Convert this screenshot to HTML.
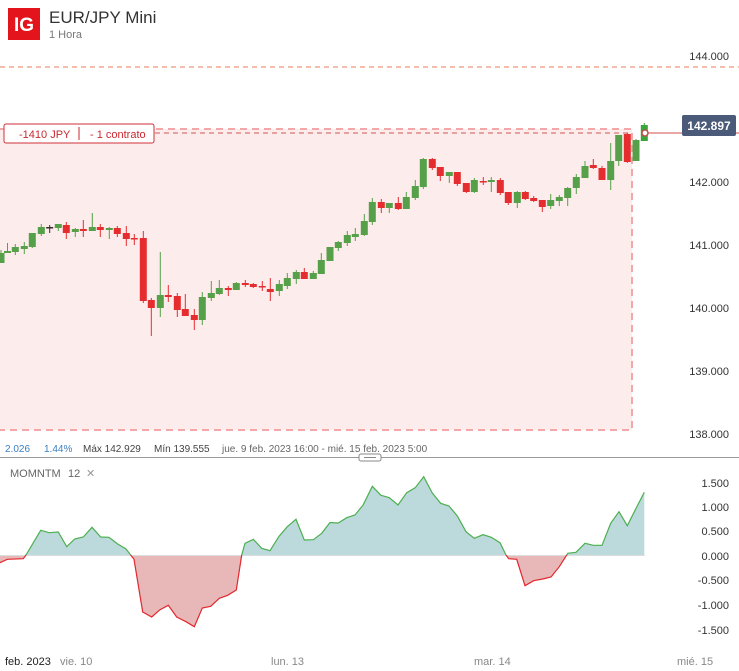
<!DOCTYPE html>
<html><head><meta charset="utf-8"><style>
body{margin:0;background:#fff;width:739px;height:671px;overflow:hidden;font-family:"Liberation Sans",sans-serif;}
svg{display:block}
</style></head><body>
<svg id="s" width="739" height="671" xmlns="http://www.w3.org/2000/svg" font-family="Liberation Sans, sans-serif">
<rect x="8" y="8" width="32" height="32" fill="#e3141c"/>
<text x="24" y="31" fill="#fff" font-size="19" font-weight="bold" text-anchor="middle">IG</text>
<text x="49" y="23" fill="#333" font-size="17">EUR/JPY Mini</text>
<text x="49" y="38" fill="#777" font-size="11">1 Hora</text>
<line x1="0" y1="67" x2="739" y2="67" stroke="#f0a890" stroke-width="1.5" stroke-dasharray="5,4"/>
<rect x="0" y="129" width="632" height="301" fill="#fdecec"/>
<path d="M0 129 H632 V430 H0" fill="none" stroke="#f2a8a8" stroke-width="2" stroke-dasharray="7,5"/>
<line x1="155" y1="133" x2="630" y2="133" stroke="#e08888" stroke-width="1.5" stroke-dasharray="5,4"/>
<line x1="645" y1="133" x2="739" y2="133" stroke="#e08888" stroke-width="1.5"/>
<rect x="4" y="124" width="150" height="19" rx="2" fill="#fff" stroke="#d0323a" stroke-width="1"/>
<text x="19" y="138" fill="#c8282e" font-size="11">-1410 JPY</text>
<line x1="79" y1="127" x2="79" y2="140" stroke="#c8282e"/>
<text x="90" y="138" fill="#c8282e" font-size="11">- 1 contrato</text>
<g id="candles"></g>
<circle cx="645" cy="133" r="3" fill="#fff" stroke="#c0504d" stroke-width="1.5"/>
<g font-size="11" fill="#333" text-anchor="end">
<text x="729" y="60">144.000</text>
<text x="729" y="186">142.000</text>
<text x="729" y="249">141.000</text>
<text x="729" y="312">140.000</text>
<text x="729" y="375">139.000</text>
<text x="729" y="438">138.000</text>
</g>
<rect x="682" y="115" width="54" height="21" rx="2" fill="#4a5a78"/>
<text x="709" y="130" fill="#fff" font-size="12" font-weight="bold" text-anchor="middle">142.897</text>
<g font-size="10">
<text x="5" y="452" fill="#3a7fc0">2.026</text>
<text x="44" y="452" fill="#3a7fc0">1.44%</text>
<text x="83" y="452" fill="#444">Máx 142.929</text>
<text x="154" y="452" fill="#444">Mín 139.555</text>
<text x="222" y="452" fill="#666">jue. 9 feb. 2023 16:00 - mié. 15 feb. 2023 5:00</text>
</g>
<line x1="0" y1="457.5" x2="739" y2="457.5" stroke="#999"/>
<rect x="359" y="454" width="22" height="7" rx="2" fill="#fff" stroke="#888"/>
<line x1="364" y1="457.5" x2="376" y2="457.5" stroke="#888"/>
<text x="10" y="477" fill="#666" font-size="11">MOMNTM</text>
<text x="68" y="477" fill="#666" font-size="11">12</text>
<text x="86" y="477" fill="#999" font-size="11">✕</text>
<defs>
<clipPath id="up"><rect x="0" y="460" width="739" height="95"/></clipPath>
<clipPath id="dn"><rect x="0" y="555" width="739" height="100"/></clipPath>
</defs>
<g id="mom"></g>
<g font-size="11" fill="#333" text-anchor="end">
<text x="729" y="487">1.500</text>
<text x="729" y="511">1.000</text>
<text x="729" y="535">0.500</text>
<text x="729" y="560">0.000</text>
<text x="729" y="584">-0.500</text>
<text x="729" y="609">-1.000</text>
<text x="729" y="634">-1.500</text>
</g>
<g font-size="11">
<text x="5" y="665" fill="#222">feb. 2023</text>
<text x="60" y="665" fill="#888">vie. 10</text>
<text x="271" y="665" fill="#888">lun. 13</text>
<text x="474" y="665" fill="#888">mar. 14</text>
<text x="677" y="665" fill="#888">mié. 15</text>
</g>
</svg>
<script>
var C=[[1,253,263,250,263,'g'],[7.5,251,253,243,253,'g'],[15.3,247,252,244,255,'g'],[24.3,246,249,242,254,'g'],[32.3,233,247,233,248,'g'],[41.3,227,234,224,236,'g'],[49.7,227,228,225,233,'k'],[58.3,224,228,224,231,'g'],[66.3,225,233,222,239,'r'],[75.3,229,232,228,237,'g'],[83.3,229,231,220,237,'r'],[92.3,227,231,213,231,'g'],[100.3,227,230,224,237,'r'],[109.3,228,230,227,239,'g'],[117.3,228,234,226,237,'r'],[126.3,233,239,226,246,'r'],[134.3,238,239,234,245,'r'],[143.3,238,301,231,303,'r'],[151.3,300,308,298,336,'r'],[160.3,295,308,252,317,'g'],[168.3,295,297,285,302,'r'],[177.3,296,310,293,317,'r'],[185.3,309,316,294,316,'r'],[194.3,315,320,309,330,'r'],[202.3,297,320,292,325,'g'],[211.3,293,298,281,301,'g'],[219.3,288,294,280,295,'g'],[228.3,288,290,286,296,'r'],[236.3,283,290,282,290,'g'],[245.3,283,285,280,287,'r'],[253.3,284,287,283,288,'r'],[262.3,286,287,281,291,'r'],[270.3,289,292,278,301,'r'],[279.3,284,291,280,296,'g'],[287.3,278,286,273,289,'g'],[296.3,272,279,270,284,'g'],[304.3,272,279,268,279,'r'],[313.3,273,279,271,279,'g'],[321.3,260,274,253,274,'g'],[330,247,261,247,261,'g'],[338.3,242,248,241,251,'g'],[347.3,235,243,231,246,'g'],[355.3,234,237,228,241,'g'],[364.3,221,235,214,236,'g'],[372.3,202,222,198,225,'g'],[381.3,202,208,199,213,'r'],[389.3,203,208,203,213,'g'],[398.3,203,209,197,210,'r'],[406.3,197,209,192,209,'g'],[415.3,186,198,180,200,'g'],[423.3,159,187,158,189,'g'],[432.3,159,168,158,170,'r'],[440.3,167,176,167,181,'r'],[449.3,172,176,172,183,'g'],[457.3,172,184,172,186,'r'],[466.3,183,192,183,193,'r'],[474.3,180,192,178,193,'g'],[483.3,181,182,177,185,'r'],[491.3,180,182,177,192,'g'],[500.3,180,193,178,195,'r'],[508.3,192,203,192,205,'r'],[517.3,192,203,191,208,'g'],[525.3,192,199,191,200,'r'],[533.7,198,201,196,202,'r'],[542.3,200,207,200,212,'r'],[550.7,200,206,194,209,'g'],[559.3,197,201,195,206,'g'],[567.7,188,198,187,206,'g'],[576.3,177,188,174,194,'g'],[585,166,178,161,178,'g'],[593.3,165,168,159,169,'r'],[602,168,180,166,180,'r'],[610.7,161,180,143,190,'g'],[618.7,135,161,135,166,'g'],[627.3,134,162,133,163,'r'],[636,140,161,139,161,'g'],[644.3,125,141,123,141,'G']];
var col={g:'#55a048',r:'#e52d2f',k:'#3a2a2a',G:'#3aa53a'};
var h='';
C.forEach(function(c){var f=col[c[5]];h+='<line x1="'+c[0]+'" y1="'+c[3]+'" x2="'+c[0]+'" y2="'+c[4]+'" stroke="'+f+'" stroke-width="1"/>';var bh=Math.max(c[2]-c[1],1.5);h+='<rect x="'+(c[0]-3.5)+'" y="'+c[1]+'" width="7" height="'+bh+'" fill="'+f+'"/>';});
document.getElementById('candles').innerHTML=h;
var P=[[0,562.7],[7.3,559.3],[23.3,558.7],[26,555],[40.7,530.3],[49.3,532.7],[58.3,532],[66.7,546.7],[74.7,539],[83.3,537],[92,527.3],[100.7,537],[109,537.3],[117.3,543.7],[126,549],[130.7,555],[134,559.3],[142.7,612],[151.7,617],[160,609.7],[168.3,605.3],[176.7,617],[186,621.7],[194.3,626.7],[202.3,608],[210.7,606.3],[219.3,598.3],[227.7,595.3],[236.3,590],[241.7,555],[245,543.3],[253.3,539.3],[261.7,548.3],[270,550.7],[279,536.3],[287.3,526.7],[296,519.3],[304.3,540],[313.3,539.7],[321.7,533.3],[330,522.5],[338.3,523],[346.7,517.7],[355,515],[363.3,504.7],[372.3,486.3],[381,495.3],[389.3,497.7],[398,505],[406.7,492.7],[415.3,487.7],[423.7,476.7],[432.3,493],[440.7,503.3],[449,506],[457.3,516],[466,531.7],[474.3,538.3],[483,534.7],[491.3,537.3],[500,542.7],[506,555],[508.7,558.7],[516.7,559.3],[525,585.7],[533.7,580.7],[542.7,579],[551,577],[559.3,566.7],[566.7,555],[567.7,553.3],[576,552.3],[585,543.3],[593.3,545.3],[602,545.3],[610.7,523.3],[619,511.7],[627.3,525.7],[635.7,509],[644.3,492.3]];
var pts=P.map(function(p){return p[0]+','+p[1]}).join(' ');
var poly='0,555 '+pts+' 644.3,555';
var m='<polygon points="'+poly+'" fill="#bcd9dc" clip-path="url(#up)"/>';
m+='<polygon points="'+poly+'" fill="#e8b8b8" clip-path="url(#dn)"/>';
m+='<line x1="0" y1="555.5" x2="645" y2="555.5" stroke="#ddd" stroke-width="1"/>';
m+='<polyline points="'+pts+'" fill="none" stroke="#4caf50" stroke-width="1.2" clip-path="url(#up)"/>';
m+='<polyline points="'+pts+'" fill="none" stroke="#e0282e" stroke-width="1.2" clip-path="url(#dn)"/>';
document.getElementById('mom').innerHTML=m;
</script>
</body></html>
